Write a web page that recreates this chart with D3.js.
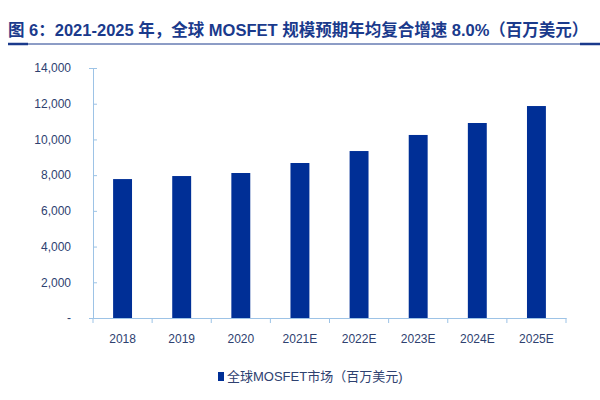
<!DOCTYPE html>
<html>
<head>
<meta charset="utf-8">
<script src="https://cdn.jsdelivr.net/npm/d3@7"></script>
<style>
  body { margin: 0; background: #fff; }
  text { font-family: "Liberation Sans", "Noto Sans CJK SC", sans-serif; }
</style>
</head>
<body>
<svg width="600" height="400"></svg>
<script>
const years = ["2018", "2019", "2020", "2021E", "2022E", "2023E", "2024E", "2025E"];
const market = [7780, 7950, 8120, 8680, 9350, 10250, 10920, 11870];
const yTicks = [0, 2000, 4000, 6000, 8000, 10000, 12000, 14000];

const svg = d3.select("svg");
const margin = { top: 68, left: 93, right: 34, bottom: 82 };
const width = 600 - margin.left - margin.right;
const height = 400 - margin.top - margin.bottom;

svg.append("text")
  .attr("x", 8).attr("y", 36)
  .attr("fill", "#1a3a8c")
  .attr("font-size", 16.5).attr("font-weight", "bold")
  .attr("font-family", "'Noto Sans CJK SC', sans-serif")
  .text("图 6：2021-2025 年，全球 MOSFET 规模预期年均复合增速 8.0%（百万美元）");

svg.append("line").attr("x1", 8).attr("x2", 600).attr("y1", 44).attr("y2", 44)
  .attr("stroke", "#1a3a8c").attr("stroke-width", 1);
svg.append("line").attr("x1", 8).attr("x2", 28).attr("y1", 44).attr("y2", 44)
  .attr("stroke", "#1a3a8c").attr("stroke-width", 2.5);
svg.append("line").attr("x1", 580).attr("x2", 600).attr("y1", 44).attr("y2", 44)
  .attr("stroke", "#1a3a8c").attr("stroke-width", 2.5);

const x = d3.scaleBand().domain(years).range([0, width]).paddingInner(0.68).paddingOuter(0.34);
const y = d3.scaleLinear().domain([0, 14000]).range([height, 0]);

const chart = svg.append("g").attr("transform", `translate(${margin.left},${margin.top})`);

const yAxis = chart.append("g")
  .call(d3.axisLeft(y).tickValues(yTicks).tickSize(4).tickPadding(18)
    .tickFormat(d => d === 0 ? "-" : d3.format(",")(d)));
const xAxis = chart.append("g").attr("transform", `translate(0,${height})`)
  .call(d3.axisBottom(x).tickSize(0).tickPadding(16));

// category separators
const step = x.step();
const seps = d3.range(years.length + 1).map(i => i * width / years.length);
chart.append("g").selectAll("line").data(seps).enter().append("line")
  .attr("x1", d => d).attr("x2", d => d).attr("y1", height).attr("y2", height + 5)
  .attr("stroke", "#9dc3e6");

[yAxis, xAxis].forEach(a => {
  a.selectAll("path, line").attr("stroke", "#9dc3e6");
  a.selectAll("text").attr("fill", "#2e4170").attr("font-size", 12);
});
yAxis.selectAll(".tick line").attr("transform", "translate(4,0)");

chart.selectAll("rect.bar").data(market).enter().append("rect")
  .attr("class", "bar")
  .attr("x", (d, i) => x(years[i]))
  .attr("width", x.bandwidth())
  .attr("y", d => y(d))
  .attr("height", d => height - y(d))
  .attr("fill", "#002f96");

const legend = svg.append("g").attr("transform", "translate(218,381)");
legend.append("rect").attr("x", 0).attr("y", -9).attr("width", 6).attr("height", 9).attr("fill", "#002f96");
legend.append("text").attr("x", 9).attr("y", 0).attr("fill", "#2e4170").attr("font-size", 13)
  .attr("font-family", "'Noto Sans CJK SC', sans-serif")
  .text("全球MOSFET市场（百万美元)");
</script>
</body>
</html>
